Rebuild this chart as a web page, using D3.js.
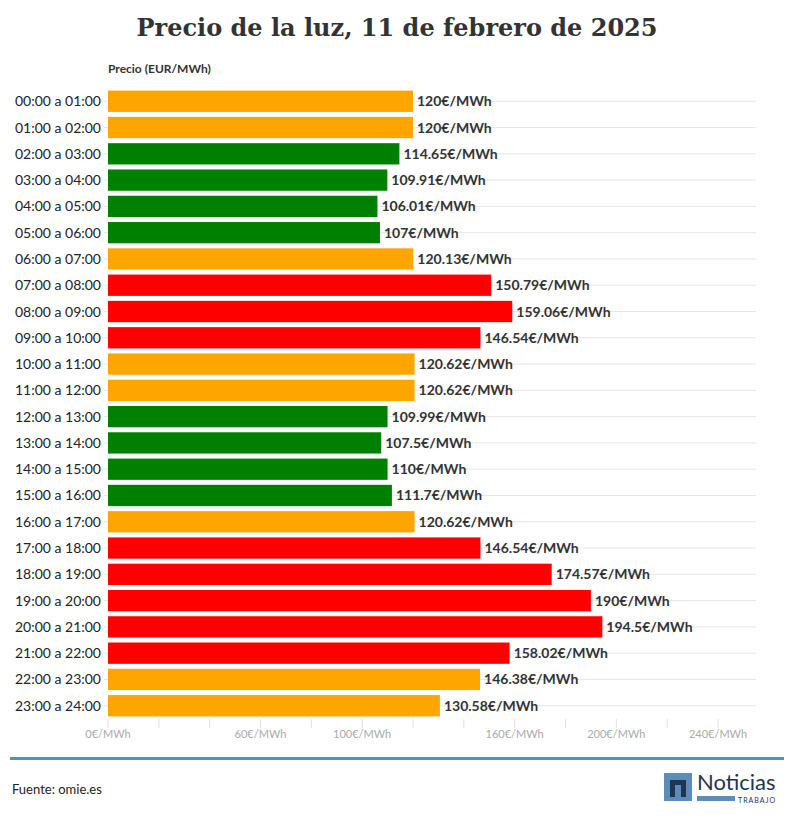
<!DOCTYPE html>
<html><head><meta charset="utf-8">
<script src="https://cdn.jsdelivr.net/npm/d3@7"></script>
<style>
body{margin:0;background:#fff;font-family:Lato,"Open Sans",sans-serif;}
</style></head>
<body>
<svg id="chart" width="794" height="819"></svg>
<script>
// datos del precio por hora
const hours = ["00:00 a 01:00","01:00 a 02:00","02:00 a 03:00","03:00 a 04:00","04:00 a 05:00","05:00 a 06:00","06:00 a 07:00","07:00 a 08:00","08:00 a 09:00","09:00 a 10:00","10:00 a 11:00","11:00 a 12:00","12:00 a 13:00","13:00 a 14:00","14:00 a 15:00","15:00 a 16:00","16:00 a 17:00","17:00 a 18:00","18:00 a 19:00","19:00 a 20:00","20:00 a 21:00","21:00 a 22:00","22:00 a 23:00","23:00 a 24:00"];
const prices = [120,120,114.65,109.91,106.01,107,120.13,150.79,159.06,146.54,120.62,120.62,109.99,107.5,110,111.7,120.62,146.54,174.57,190,194.5,158.02,146.38,130.58];
const levels = ["mid","mid","low","low","low","low","mid","high","high","high","mid","mid","low","low","low","low","mid","high","high","high","high","high","mid","mid"];
const tickValues = [0,20,40,60,80,100,120,140,160,180,200,220,240];
const tickLabels = {0:"0€/MWh",60:"60€/MWh",100:"100€/MWh",160:"160€/MWh",200:"200€/MWh",240:"240€/MWh"};

const colors = {low:"#008000", mid:"#FFA500", high:"#FF0000"};
const svg = d3.select("#chart");

const x = d3.scaleLinear().domain([0,240]).range([108,718]);
const y = d3.scaleBand().domain(hours).range([88,719]).paddingInner(0.19).paddingOuter(0.1);

svg.append("text").attr("x",397).attr("y",36).attr("text-anchor","middle")
  .attr("font-family","DejaVu Serif,serif").attr("font-weight","bold").attr("font-size",24)
  .attr("fill","#333").text("Precio de la luz, 11 de febrero de 2025");

svg.append("text").attr("x",108).attr("y",73).attr("font-size",12).attr("font-weight","bold")
  .attr("fill","#333").text("Precio (EUR/MWh)");

// líneas guía horizontales
svg.selectAll("line.grid").data(hours).enter().append("line")
  .attr("x1",104).attr("x2",756)
  .attr("y1",d=>y(d)+y.bandwidth()/2).attr("y2",d=>y(d)+y.bandwidth()/2)
  .attr("stroke","#e6e6e6");

svg.selectAll("text.cat").data(hours).enter().append("text")
  .attr("x",101).attr("y",d=>y(d)+y.bandwidth()/2+5).attr("text-anchor","end")
  .attr("font-size",14).attr("fill","#222").text(d=>d);

const rows = hours.map((h,i)=>({h, v:prices[i], c:colors[levels[i]]}));
svg.selectAll("rect.bar").data(rows).enter().append("rect")
  .attr("x",x(0)).attr("y",d=>y(d.h)).attr("width",d=>x(d.v)-x(0)).attr("height",y.bandwidth())
  .attr("fill",d=>d.c);

svg.selectAll("text.val").data(rows).enter().append("text")
  .attr("x",d=>x(d.v)+4).attr("y",d=>y(d.h)+y.bandwidth()/2+5)
  .attr("font-size",14).attr("font-weight","bold").attr("fill","#333")
  .text(d=>d.v+"€/MWh");

// eje x
svg.selectAll("line.tick").data(tickValues).enter().append("line")
  .attr("x1",d=>x(d)).attr("x2",d=>x(d)).attr("y1",719).attr("y2",728)
  .attr("stroke","#e0e0e0");
svg.selectAll("text.tick").data(tickValues.filter(d=>tickLabels[d])).enter().append("text")
  .attr("x",d=>x(d)).attr("y",738).attr("text-anchor","middle")
  .attr("font-size",11).attr("fill","#aaa").text(d=>tickLabels[d]);

svg.append("rect").attr("x",10).attr("y",757).attr("width",774).attr("height",3).attr("fill","#5b8db8");
svg.append("text").attr("x",12).attr("y",794).attr("font-size",13).attr("fill","#222").text("Fuente: omie.es");

// logo
const logo = svg.append("g");
logo.append("rect").attr("x",664).attr("y",773).attr("width",28).attr("height",28).attr("fill","#5b8db8");
logo.append("path").attr("d","M670,797 V780 H686 V797 H681 V785 H675 V797 Z").attr("fill","#1f3550");
logo.append("text").attr("x",697).attr("y",790).attr("font-size",22).attr("font-family","Liberation Sans Narrow,Lato,sans-serif")
  .attr("fill","#1f3550").text("Noticias");
logo.append("rect").attr("x",697).attr("y",796).attr("width",38).attr("height",5).attr("fill","#5b8db8");
logo.append("text").attr("x",738).attr("y",803).attr("font-size",7).attr("letter-spacing",1).attr("fill","#1f3550").text("TRABAJO");
</script>
</body></html>
